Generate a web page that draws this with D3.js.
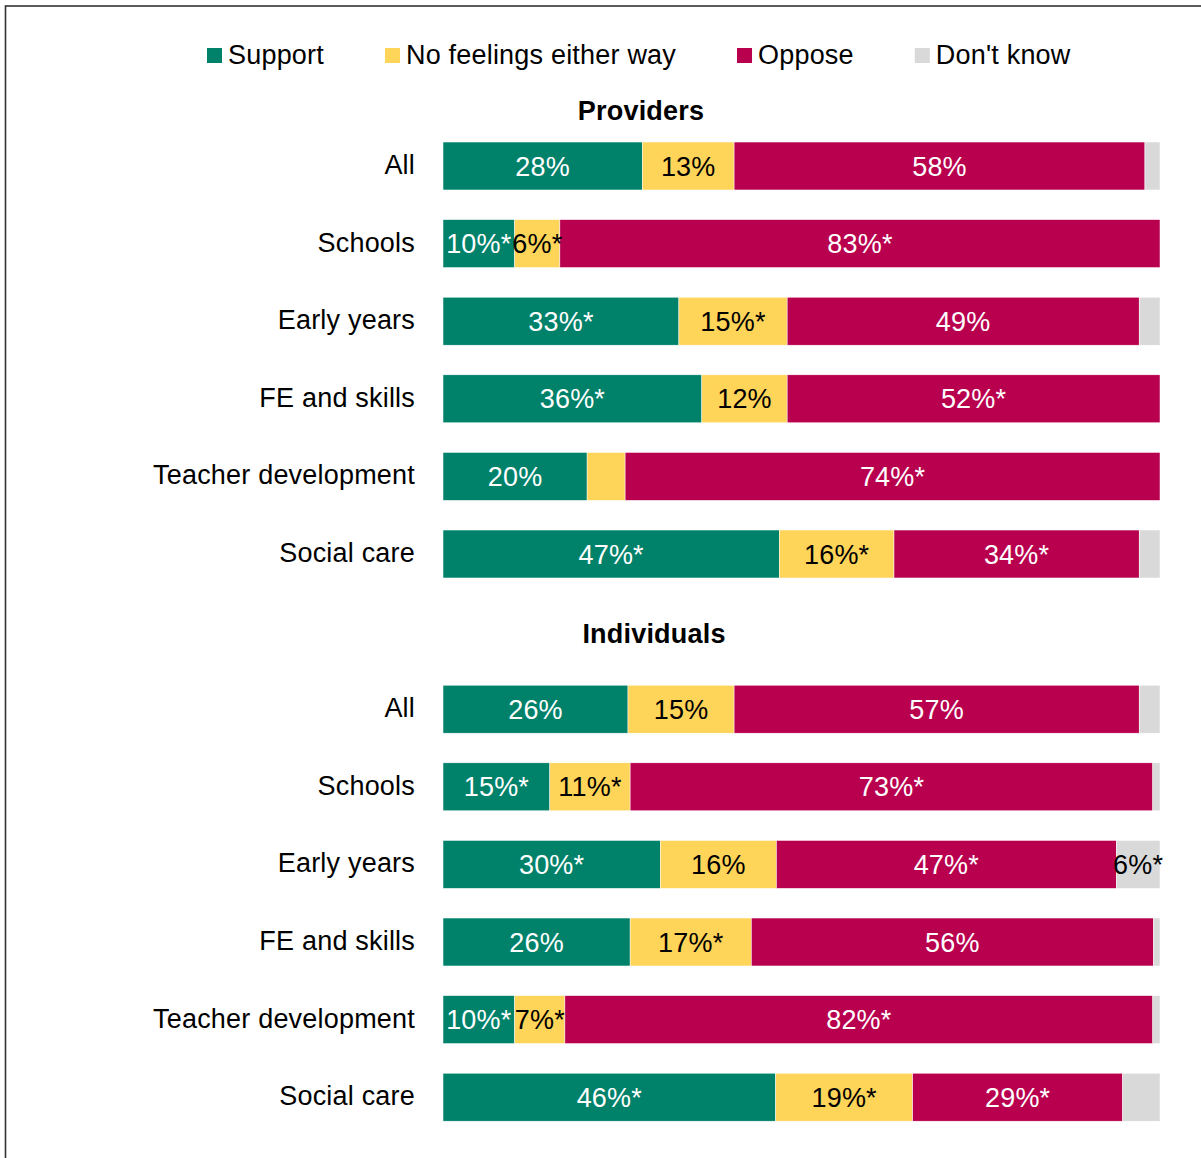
<!DOCTYPE html>
<html>
  <head>
    <meta charset="utf-8" />
    <title>Support for proposal</title>
    <script src="https://d3js.org/d3.v7.min.js"></script>
    <style>
        body{
            margin:0;
            background:#fff;
        }
        text{
            font-family: Arial, "Liberation Sans", sans-serif;
            letter-spacing: 0.2px;
        }
    </style>
  </head>
  <body>
    <svg id="chart">
        <rect id="frame" />
        <g id="legend"></g>
        <g id="titles"></g>
        <g id="bars"></g>
        <g id="y"></g>
    </svg>

    <script>
      var width = 1201;
      var height = 1158;

      // data (percent of respondents)
      var seriesNames = ["Support", "No feelings either way", "Oppose", "Don't know"];
      var seriesColors = ["#00816a", "#fed459", "#b9004e", "#d9d9d9"];
      var labelColors = ["#fff", "#000", "#fff", "#000"];

      var groups = ["Providers", "Individuals"];
      var categories = ["All", "Schools", "Early years", "FE and skills", "Teacher development", "Social care"];

      var providerValues = [
        [27.8, 12.8, 57.3, 2.1],
        [10.0, 6.3, 83.7, 0],
        [32.9, 15.1, 49.1, 2.9],
        [36.1, 11.9, 52.0, 0],
        [20.1, 5.3, 74.6, 0],
        [46.9, 16.0, 34.2, 2.9]
      ];
      var providerLabels = [
        ["28%", "13%", "58%", ""],
        ["10%*", "6%*", "83%*", ""],
        ["33%*", "15%*", "49%", ""],
        ["36%*", "12%", "52%*", ""],
        ["20%", "", "74%*", ""],
        ["47%*", "16%*", "34%*", ""]
      ];

      var individualValues = [
        [25.8, 14.8, 56.5, 2.9],
        [14.9, 11.2, 72.9, 1.0],
        [30.3, 16.2, 47.4, 6.1],
        [26.1, 16.9, 56.1, 0.9],
        [10.0, 7.0, 82.0, 1.0],
        [46.4, 19.1, 29.3, 5.2]
      ];
      var individualLabels = [
        ["26%", "15%", "57%", ""],
        ["15%*", "11%*", "73%*", ""],
        ["30%*", "16%", "47%*", "6%*"],
        ["26%", "17%*", "56%", ""],
        ["10%*", "7%*", "82%*", ""],
        ["46%*", "19%*", "29%*", ""]
      ];

      var fontSize = 27;

      var svg = d3.select("#chart")
        .attr("width", width)
        .attr("height", height);

      svg.select("#frame")
        .attr("x", 5.5)
        .attr("y", 6)
        .attr("width", 1300)
        .attr("height", 1300)
        .attr("fill", "none")
        .attr("stroke", "#333")
        .attr("stroke-width", 1.6);

      // one row per bar, with an empty slot between the two groups
      var rows = [];
      categories.forEach(function(c, i) {
        rows.push({key: "p" + i, name: c, values: providerValues[i], labels: providerLabels[i]});
      });
      rows.push({key: "gap", name: "", values: null});
      categories.forEach(function(c, i) {
        rows.push({key: "i" + i, name: c, values: individualValues[i], labels: individualLabels[i]});
      });

      var x = d3.scaleLinear()
        .domain([0, 100])
        .range([443, 1160]);

      var y = d3.scaleBand()
        .domain(rows.map(function(d) { return d.key; }))
        .range([127.2, 127.2 + 13 * 77.6])
        .paddingInner(0.382)
        .paddingOuter(0.191);

      var barRows = rows.filter(function(d) { return d.values; });

      var segments = [];
      barRows.forEach(function(r) {
        var acc = 0;
        r.values.forEach(function(v, i) {
          segments.push({row: r.key, series: i, x0: acc, x1: acc + v, label: r.labels[i]});
          acc += v;
        });
      });

      var bars = svg.select("#bars");

      bars.selectAll(".seg")
        .data(segments.filter(function(d) { return d.x1 > d.x0; }))
        .enter().append("rect")
        .attr("class", "seg")
        .attr("x", function(d) { return x(d.x0); })
        .attr("width", function(d) { return x(d.x1) - x(d.x0); })
        .attr("y", function(d) { return y(d.row); })
        .attr("height", y.bandwidth())
        .attr("fill", function(d) { return seriesColors[d.series]; })
        .attr("stroke", "#fff")
        .attr("stroke-width", 0.5);

      bars.selectAll(".lbl")
        .data(segments.filter(function(d) { return d.label; }))
        .enter().append("text")
        .attr("class", "lbl")
        .attr("x", function(d) { return (x(d.x0) + x(d.x1)) / 2; })
        .attr("y", function(d) { return y(d.row) + y.bandwidth() / 2 + 9.5; })
        .attr("text-anchor", "middle")
        .attr("font-size", fontSize)
        .attr("fill", function(d) { return labelColors[d.series]; })
        .text(function(d) { return d.label; });

      // category axis
      var yAxis = d3.axisLeft(y)
        .tickSize(0)
        .tickPadding(0)
        .tickFormat(function(k) {
          var r = rows.find(function(d) { return d.key === k; });
          return r.name;
        });
      var yg = svg.select("#y")
        .attr("transform", "translate(415, 0)")
        .call(yAxis);
      yg.select(".domain").remove();
      yg.selectAll("text")
        .attr("font-size", fontSize)
        .attr("font-family", "Arial, 'Liberation Sans', sans-serif")
        .attr("fill", "#000")
        .attr("dy", null)
        .attr("y", 8);

      // group titles
      var titleY = [120, 643];
      svg.select("#titles").selectAll("text")
        .data(groups)
        .enter().append("text")
        .attr("x", function(d, i) { return i === 0 ? 641 : 654; })
        .attr("y", function(d, i) { return titleY[i]; })
        .attr("text-anchor", "middle")
        .attr("font-size", fontSize)
        .attr("font-weight", "bold")
        .text(function(d) { return d; });

      // legend
      var legend = svg.select("#legend");
      var items = legend.selectAll(".item")
        .data(seriesNames)
        .enter().append("g")
        .attr("class", "item");
      items.append("rect")
        .attr("width", 15)
        .attr("height", 15)
        .attr("y", 48)
        .attr("fill", function(d, i) { return seriesColors[i]; });
      items.append("text")
        .attr("x", 21)
        .attr("y", 64)
        .attr("font-size", fontSize)
        .text(function(d) { return d; });

      var gap = 61;
      var widths = [];
      items.each(function() {
        widths.push(21 + d3.select(this).select("text").node().getComputedTextLength());
      });
      var cx = 207;
      items.attr("transform", function(d, i) {
        var t = "translate(" + cx + ",0)";
        cx += widths[i] + gap;
        return t;
      });
    </script>
  </body>
</html>
